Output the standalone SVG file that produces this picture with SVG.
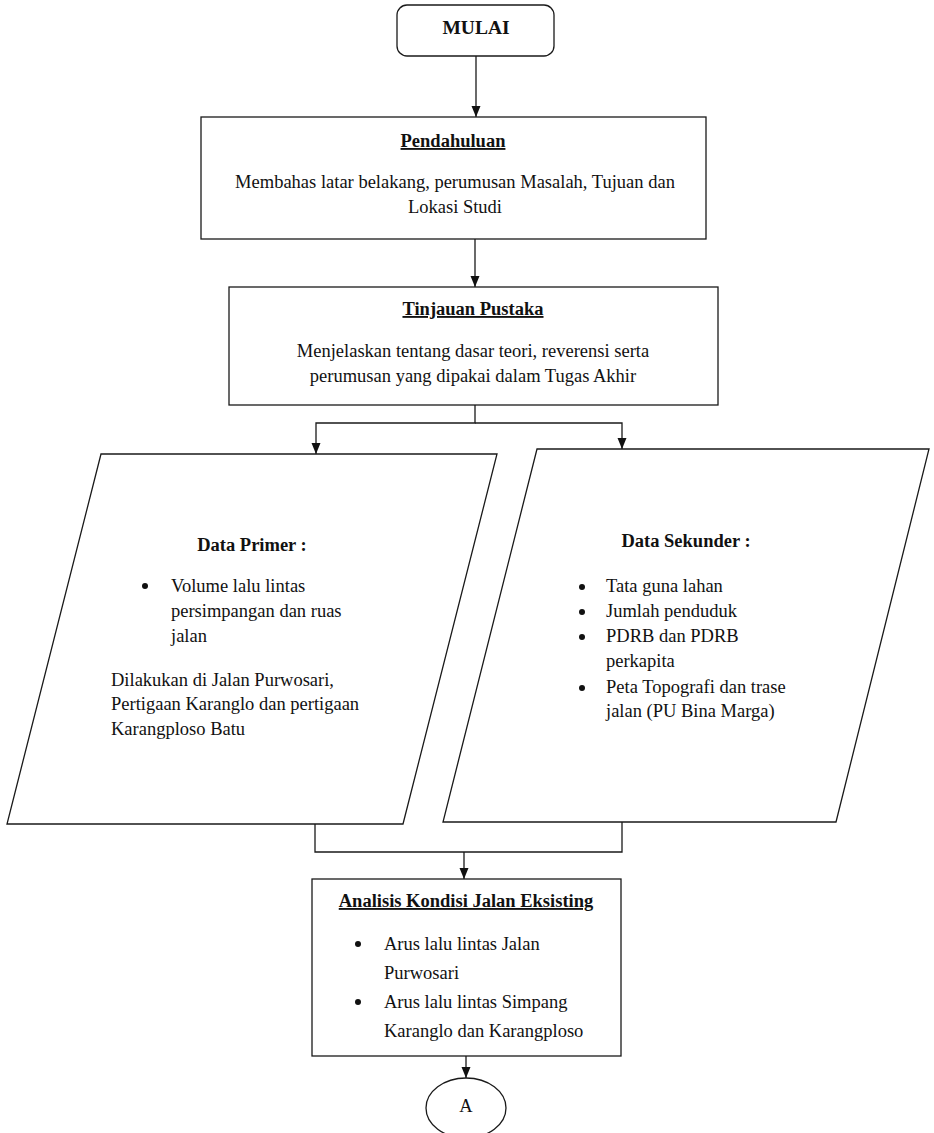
<svg xmlns="http://www.w3.org/2000/svg" width="934" height="1133" viewBox="0 0 934 1133">
<style>
.s{fill:#fff;stroke:#1a1a1a;stroke-width:1.3}
.t{font-family:"Liberation Serif","Times New Roman",serif;font-size:18.5px;fill:#111}
.b{font-weight:bold}
.c{text-anchor:middle}
.u{text-decoration:underline}
.ln{fill:none;stroke:#1a1a1a;stroke-width:1.3}
.dot{fill:#111}
</style>
<defs>
<marker id="ah" markerWidth="12" markerHeight="12" refX="11" refY="5" orient="auto" markerUnits="userSpaceOnUse">
<path d="M0,0.5 L11,5 L0,9.5 Z" fill="#111"/>
</marker>
</defs>
<rect width="934" height="1133" fill="#fff"/>
<g id="connectors">
<line class="ln" x1="476" y1="56" x2="476" y2="117" marker-end="url(#ah)"/>
<line class="ln" x1="475" y1="239" x2="475" y2="287" marker-end="url(#ah)"/>
<polyline class="ln" points="475,405 475,423 316,423 316,454" marker-end="url(#ah)"/>
<polyline class="ln" points="475,423 622,423 622,449" marker-end="url(#ah)"/>
<polyline class="ln" points="315,824 315,852 622,852 622,822"/>
<line class="ln" x1="464" y1="852" x2="464" y2="879" marker-end="url(#ah)"/>
<line class="ln" x1="466" y1="1056" x2="466" y2="1078" marker-end="url(#ah)"/>
</g>
<g id="mulai">
<rect class="s" x="397" y="5" width="157" height="51" rx="10"/>
<text class="t b c" x="476" y="34" style="font-size:19.5px">MULAI</text>
</g>
<g id="pendahuluan">
<rect class="s" x="201" y="117" width="505" height="122"/>
<text class="t b c u" x="453" y="147">Pendahuluan</text>
<text class="t c" x="455" y="188">Membahas latar belakang, perumusan Masalah, Tujuan dan</text>
<text class="t c" x="455" y="213">Lokasi Studi</text>
</g>
<g id="tinjauan">
<rect class="s" x="229" y="287" width="489" height="118"/>
<text class="t b c u" x="473" y="315">Tinjauan Pustaka</text>
<text class="t c" x="473" y="357">Menjelaskan tentang dasar teori, reverensi serta</text>
<text class="t c" x="473" y="382">perumusan yang dipakai dalam Tugas Akhir</text>
</g>
<g id="data-primer">
<polygon class="s" points="101,454 497,454 403,824 7,824"/>
<text class="t b c" x="252" y="551">Data Primer :</text>
<circle class="dot" cx="145" cy="586" r="3"/>
<text class="t" x="171" y="592">Volume lalu lintas</text>
<text class="t" x="171" y="617">persimpangan dan ruas</text>
<text class="t" x="171" y="642">jalan</text>
<text class="t" x="111" y="686">Dilakukan di Jalan Purwosari,</text>
<text class="t" x="111" y="710">Pertigaan Karanglo dan pertigaan</text>
<text class="t" x="111" y="735">Karangploso Batu</text>
</g>
<g id="data-sekunder">
<polygon class="s" points="537,449 929,449 836,822 443,822"/>
<text class="t b c" x="686" y="547">Data Sekunder :</text>
<circle class="dot" cx="582" cy="587" r="3"/>
<text class="t" x="606" y="592">Tata guna lahan</text>
<circle class="dot" cx="582" cy="612" r="3"/>
<text class="t" x="606" y="617">Jumlah penduduk</text>
<circle class="dot" cx="582" cy="637" r="3"/>
<text class="t" x="606" y="642">PDRB dan PDRB</text>
<text class="t" x="606" y="667">perkapita</text>
<circle class="dot" cx="582" cy="688" r="3"/>
<text class="t" x="606" y="693">Peta Topografi dan trase</text>
<text class="t" x="606" y="717">jalan (PU Bina Marga)</text>
</g>
<g id="analisis">
<rect class="s" x="312" y="879" width="309" height="177"/>
<text class="t b c u" x="466" y="907">Analisis Kondisi Jalan Eksisting</text>
<circle class="dot" cx="358" cy="944" r="3"/>
<text class="t" x="384" y="950">Arus lalu lintas Jalan</text>
<text class="t" x="384" y="979">Purwosari</text>
<circle class="dot" cx="358" cy="1002" r="3"/>
<text class="t" x="384" y="1008">Arus lalu lintas Simpang</text>
<text class="t" x="384" y="1037">Karanglo dan Karangploso</text>
</g>
<g id="connector-a">
<ellipse class="s" cx="466" cy="1108" rx="40" ry="30"/>
<text class="t c" x="466" y="1112">A</text>
</g>
</svg>
